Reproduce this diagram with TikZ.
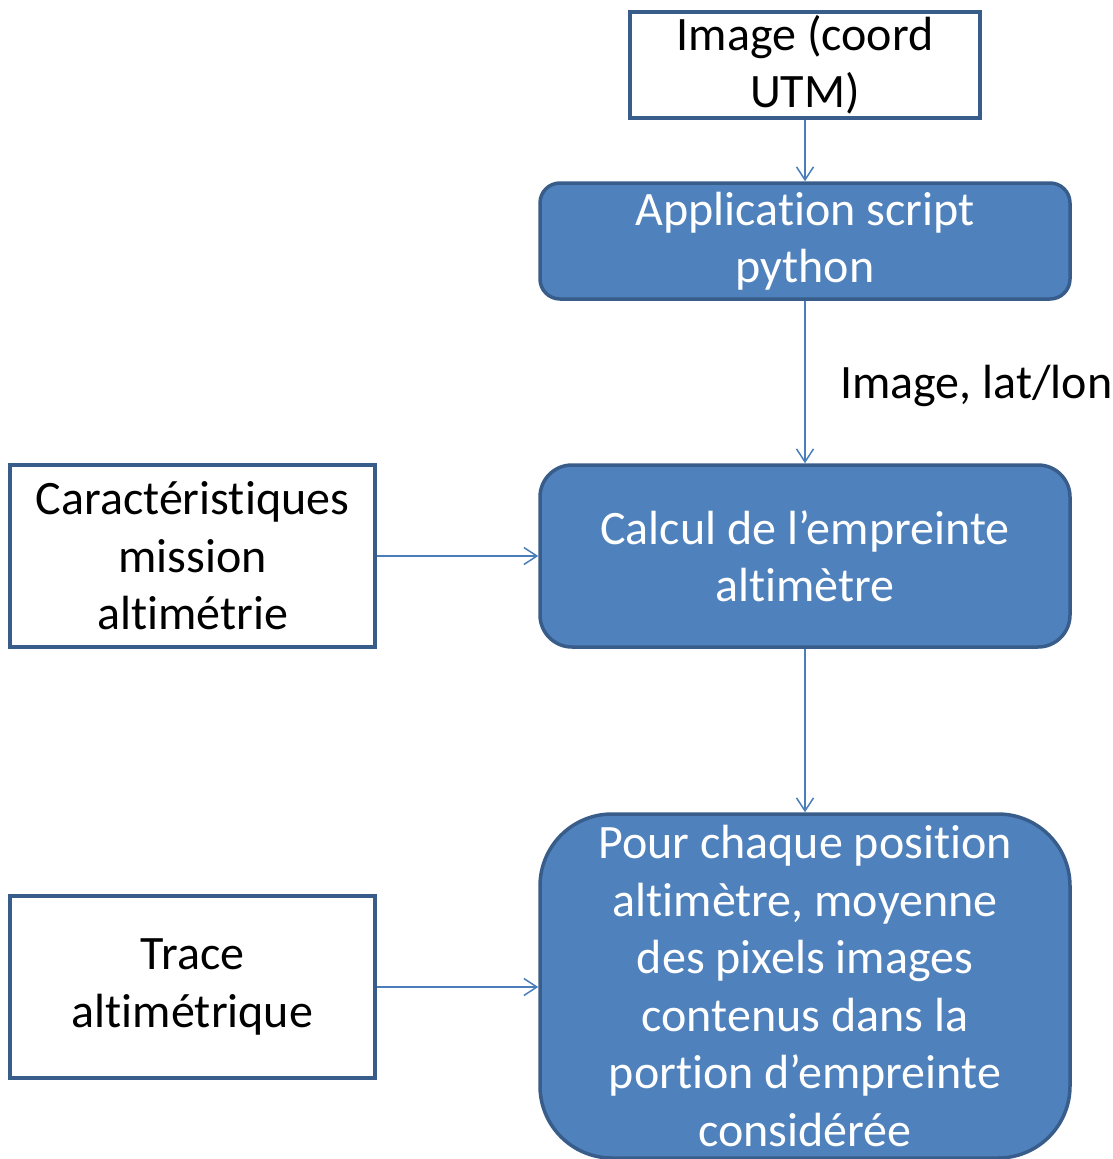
\documentclass[tikz,border=0pt]{standalone}
\usepackage{fontspec}
\setmainfont{Carlito}[Ligatures=NoCommon]
\usetikzlibrary{arrows.meta}
\definecolor{boxfill}{HTML}{4F81BD}
\definecolor{boxline}{HTML}{385D8A}
\definecolor{arrowcol}{HTML}{4A7EBB}
\begin{document}
\begin{tikzpicture}[x=1pt,y=-1pt,
  every node/.style={font=\fontsize{48}{57.5}\selectfont, inner sep=0pt, align=center},
  plainbox/.style={draw=boxline, line width=3.5pt, fill=white},
  bluebox/.style={draw=boxline, line width=3.5pt, fill=boxfill, text=white},
  arr/.style={draw=arrowcol, line width=1.5pt, -{Straight Barb[length=13pt,width=17pt,line width=1.5pt]}}
]
\useasboundingbox (0,0) rectangle (1113,1159);
\begin{scope}
\clip (0,0) rectangle (1113,1159);
\node[plainbox, minimum width=350pt, minimum height=106pt] (A) at (805,65) {Image (coord\\UTM)};
\node[bluebox, rounded corners=20pt, minimum width=530pt, minimum height=116pt] (B) at (805,241) {Application script\\python};
\node[bluebox, rounded corners=32pt, minimum width=530pt, minimum height=182pt] (C) at (805,556) {Calcul de l’empreinte\\altimètre};
\node[bluebox, rounded corners=72pt, minimum width=530pt, minimum height=344pt] (D) at (805,986) {Pour chaque position\\altimètre, moyenne\\des pixels images\\contenus dans la\\portion d’empreinte\\considérée};
\node[plainbox, minimum width=365pt, minimum height=182pt] (E) at (192.5,556) {Caractéristiques\\mission\\altimétrie};
\node[plainbox, minimum width=365pt, minimum height=182pt] (F) at (192.5,987) {Trace\\altimétrique};
\node[anchor=west] (L) at (840,386) {Image, lat/lon};
\end{scope}
\draw[arr] (A) -- (B);
\draw[arr] (B) -- (C);
\draw[arr] (C) -- (D);
\draw[arr] (E) -- (C);
\draw[arr] (F.east) -- (F.east -| D.west);
\end{tikzpicture}
\end{document}
